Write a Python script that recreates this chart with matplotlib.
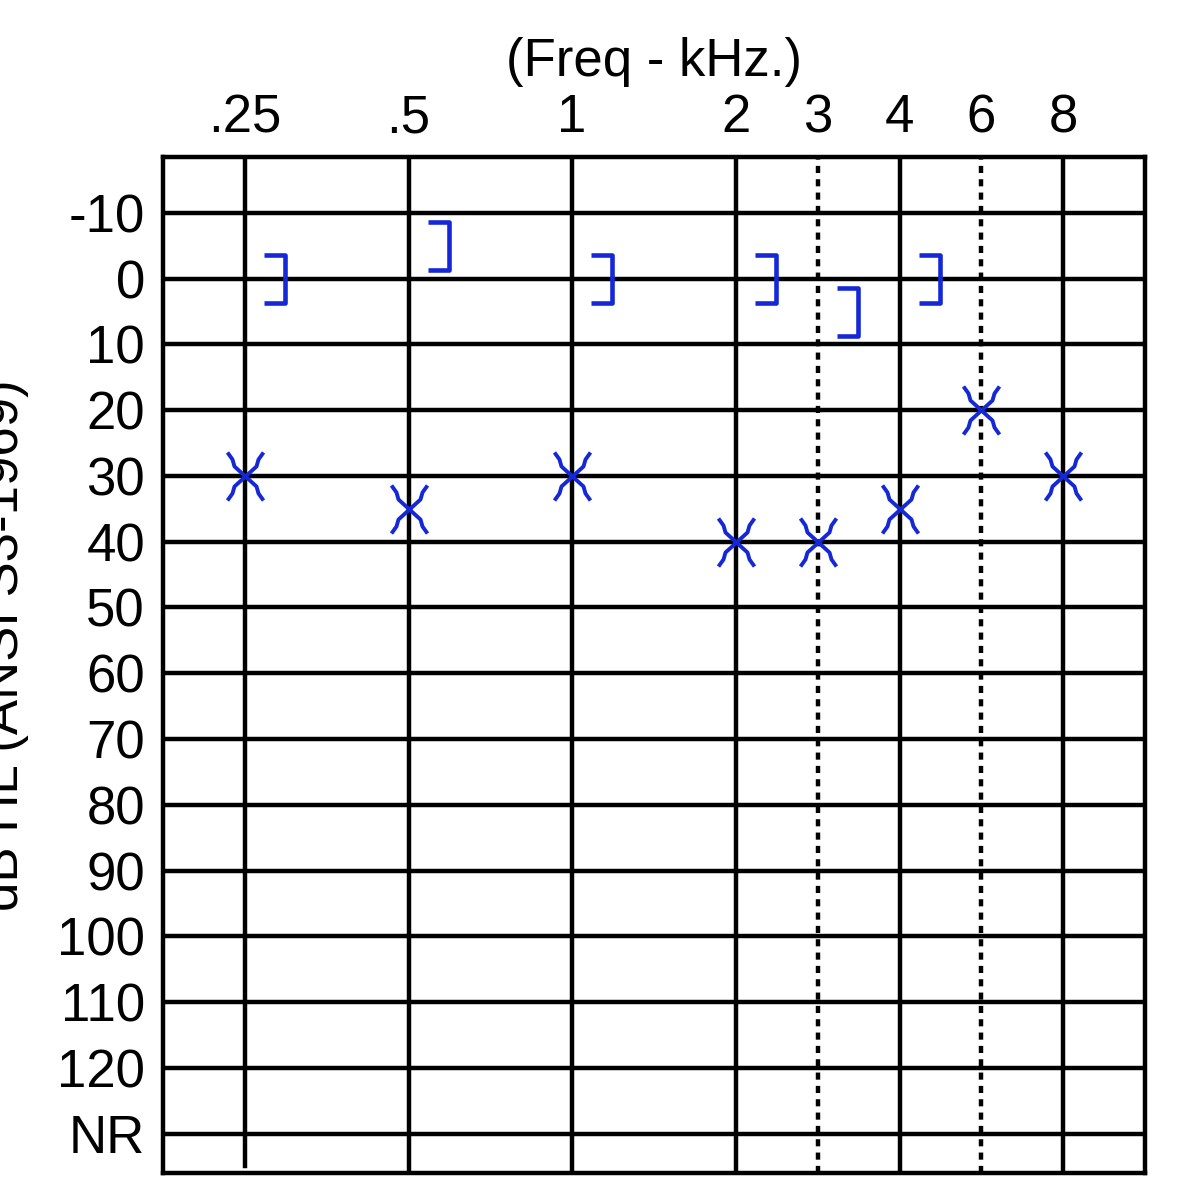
import numpy as np
import matplotlib
matplotlib.use('Agg')
import matplotlib.pyplot as plt
from matplotlib.path import Path
from matplotlib import rcParams

rcParams['font.family'] = ['Liberation Sans', 'DejaVu Sans']

# Audiogram data
freq_khz = [0.25, 0.5, 1, 2, 3, 4, 6, 8]
freq_labels = ['.25', '.5', '1', '2', '3', '4', '6', '8']
air_db = [30, 35, 30, 40, 40, 35, 20, 30]          # X marks
bone_khz = [0.25, 0.5, 1, 2, 3, 4]
bone_db = [0, -5, 0, 0, 5, 0]                       # ] marks
db_ticks = [-10, 0, 10, 20, 30, 40, 50, 60, 70, 80, 90, 100, 110, 120, 130]
db_labels = ['-10', '0', '10', '20', '30', '40', '50', '60', '70', '80',
             '90', '100', '110', '120', 'NR']
octave_khz = [0.25, 0.5, 1, 2, 4, 8]
half_octave_khz = [3, 6]

BLUE = '#1428d8'
LW = 3.2


def xpos(f):
    # octaves evenly spaced, half-octaves drawn halfway between
    return np.interp(f, octave_khz, np.arange(len(octave_khz)))


fig = plt.figure(figsize=(11.9, 12), dpi=100)
ax = fig.add_axes([163 / 1190, 1 - 1173 / 1200, 982 / 1190, 1016 / 1200])
ax.set_xlim(-0.5, 5.5)
ax.set_ylim(136, -18.5)

# grid
for d in db_ticks:
    ax.axhline(d, color='black', lw=LW, zorder=1)
for f in octave_khz:
    top = 0.0065 if f == 0.25 else 0
    ax.axvline(xpos(f), ymin=top, color='black', lw=LW, zorder=1)
for f in half_octave_khz:
    ax.axvline(xpos(f), color='black', lw=LW, ls=(0, (1.6, 1.4)), zorder=1)

# markers
bracket = Path([(19, 24), (40, 24), (40, -24), (19, -24)],
               [Path.MOVETO, Path.LINETO, Path.LINETO, Path.LINETO])
xs = [(-18, 24), (-13, 17), (-11, 10), (0, 0), (11, -10), (13, -17), (18, -24)]
xm = xs + [(-x, y) for x, y in xs]
xcodes = ([Path.MOVETO] + [Path.LINETO] * 6) * 2
cross = Path(xm, xcodes)

ax.plot(xpos(freq_khz), air_db, ls='none', marker=cross, ms=34.6,
        mfc='none', mec=BLUE, mew=2.8, zorder=3)
ax.plot(xpos(bone_khz), bone_db, ls='none', marker=bracket, ms=57.6,
        mfc='none', mec=BLUE, mew=3.3, zorder=3)

# axes cosmetics
for s in ax.spines.values():
    s.set_linewidth(LW)
ax.set_xticks(xpos(freq_khz))
ax.set_xticklabels(freq_labels)
ax.set_yticks(db_ticks)
ax.set_yticklabels(db_labels)
ax.xaxis.tick_top()
ax.xaxis.set_label_position('top')
ax.tick_params(axis='x', length=0, pad=10, labelsize=38)
ax.tick_params(axis='y', length=0, pad=13, labelsize=38)
ax.set_xlabel('(Freq - kHz.)', fontsize=38, labelpad=12)

fig.text(4 / 1190, 1 - 645 / 1200, 'dB HL (ANSI S3-1969)', rotation=90,
         ha='center', va='center', fontsize=38)

plt.savefig('out.png', dpi=100)
